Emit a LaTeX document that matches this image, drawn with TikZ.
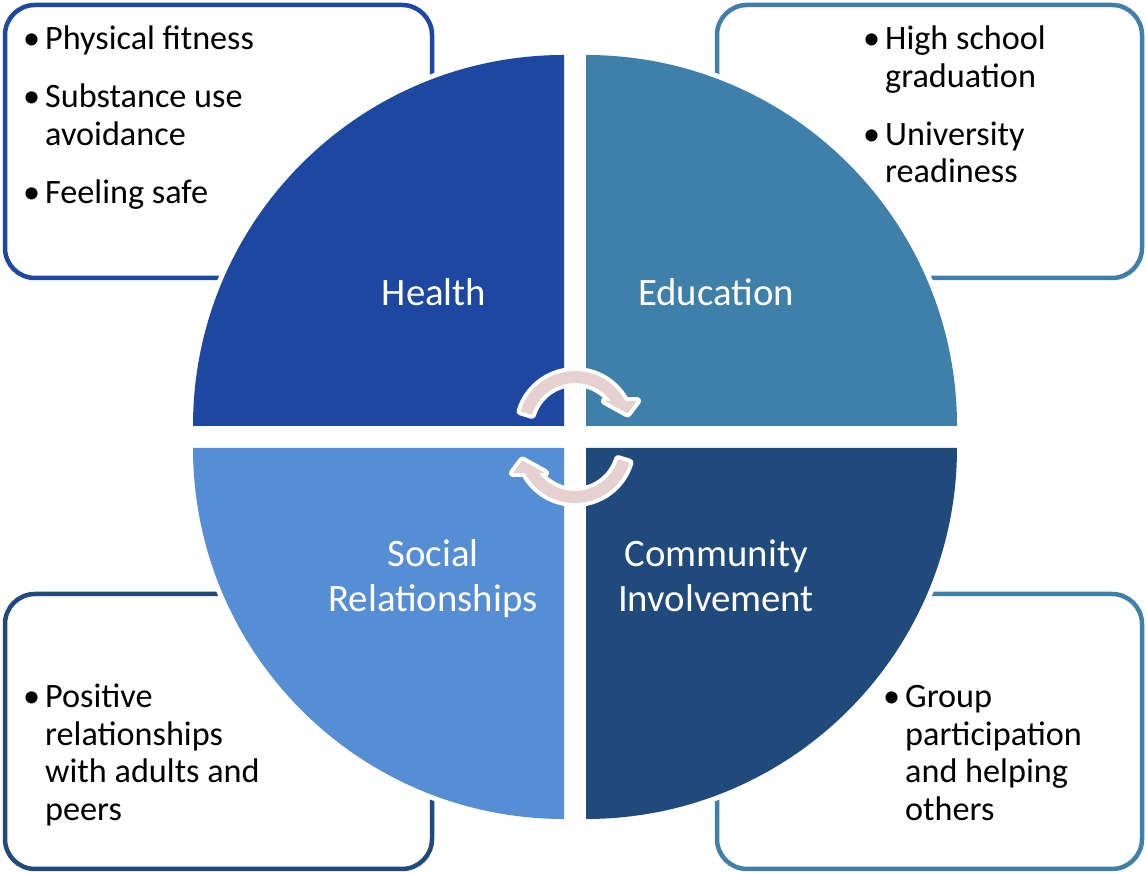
\documentclass[tikz,border=0pt]{standalone}
\usepackage{fontspec}
\setmainfont{Carlito}
\definecolor{healthc}{RGB}{29,71,160}
\definecolor{educc}{RGB}{63,128,171}
\definecolor{socialc}{RGB}{85,142,213}
\definecolor{commc}{RGB}{33,74,124}
\definecolor{pinkc}{RGB}{231,208,208}
\newcommand\bitem[1]{\par\hangindent=25pt\hangafter=1\noindent\makebox[25pt][l]{\hspace{3pt}•}#1}
\newcommand\itemgap{\par\vspace{20.5pt}}
\tikzset{
  infobox/.style={draw, rounded corners=30pt, line width=4.5pt, fill=white, inner sep=0pt},
  quad/.style={fill=#1, preaction={draw=white, line width=10pt, line join=round}},
  cyclearrow/.style={fill=pinkc, preaction={draw=white, line width=8pt, line join=round}},
  listtext/.style={anchor=base west, inner sep=0pt, text=black},
  lbl/.style={anchor=base, inner sep=0pt, text=white, font=\fontsize{38.8}{45}\selectfont}
}
\begin{document}
\begin{tikzpicture}[x=1pt,y=1pt]
\useasboundingbox (0,0) rectangle (1146,874);
\fill[white] (0,0) rectangle (1146,874);
% boxes
\node[infobox, draw=healthc, minimum width=427pt, minimum height=273pt] (hb) at (218.5,732.5) {};
\node[infobox, draw=educc, minimum width=425pt, minimum height=273pt] (eb) at (929.5,732.5) {};
\node[infobox, draw=commc, minimum width=427pt, minimum height=275pt] (sb) at (218.5,142.5) {};
\node[infobox, draw=educc, minimum width=425pt, minimum height=275pt] (cb) at (929.5,142.5) {};
% quadrants
\path[quad=healthc] (564,448) -- (564,819) arc[start angle=90, end angle=180, radius=371] -- cycle;
\path[quad=educc] (586,448) -- (957,448) arc[start angle=0, end angle=90, radius=371] -- cycle;
\path[quad=socialc] (564,426) -- (193,426) arc[start angle=180, end angle=270, radius=371] -- cycle;
\path[quad=commc] (586,426) -- (586,55) arc[start angle=270, end angle=360, radius=371] -- cycle;
% cycle arrows
\begin{scope}[shift={(575,446)}]
\path[cyclearrow] (163:57) arc[start angle=163, end angle=28, radius=57] -- (62,27) -- (52.5,14.5) -- (30,27) -- (37:45) arc[start angle=37, end angle=163, radius=45] -- cycle;
\end{scope}
\begin{scope}[shift={(575,428)}, rotate=180]
\path[cyclearrow] (163:57) arc[start angle=163, end angle=28, radius=57] -- (62,27) -- (52.5,14.5) -- (30,27) -- (37:45) arc[start angle=37, end angle=163, radius=45] -- cycle;
\end{scope}
% quadrant labels
\node[lbl] (hl) at (434,568) {Health};
\node[lbl] (el) at (716,568) {Education};
\node[lbl] (sl) at (433,307) {\begin{minipage}[t]{300pt}\centering Social\\Relationships\end{minipage}};
\node[lbl] (cl) at (716,307) {\begin{minipage}[t]{300pt}\centering Community\\Involvement\end{minipage}};
% list texts
\node[listtext] (ht) at (20,824) {\begin{minipage}[t]{390pt}\fontsize{34.2}{37.5}\selectfont
\bitem{Physical fitness}\itemgap
\bitem{Substance use\newline avoidance}\itemgap
\bitem{Feeling safe}\end{minipage}};
\node[listtext] (et) at (860,824) {\begin{minipage}[t]{260pt}\fontsize{34.2}{37.5}\selectfont
\bitem{High school\newline graduation}\itemgap
\bitem{University\newline readiness}\end{minipage}};
\node[listtext] (st) at (20,166) {\begin{minipage}[t]{390pt}\fontsize{34.2}{37.5}\selectfont
\bitem{Positive\newline relationships\newline with adults and\newline peers}\end{minipage}};
\node[listtext] (ct) at (880,166) {\begin{minipage}[t]{240pt}\fontsize{34.2}{37.5}\selectfont
\bitem{Group\newline participation\newline and helping\newline others}\end{minipage}};
\end{tikzpicture}
\end{document}
